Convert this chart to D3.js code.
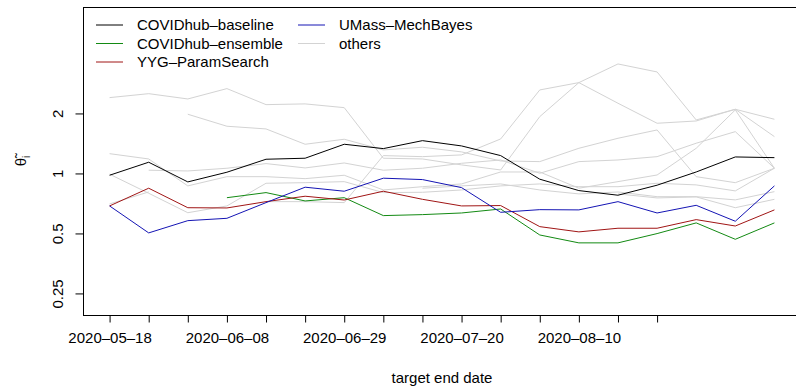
<!DOCTYPE html>
<html>
<head>
<meta charset="utf-8">
<script src="https://cdn.jsdelivr.net/npm/d3@7"></script>
<style>
  body { margin: 0; background: #fff; }
  svg text { font-family: "Liberation Sans", Arial, sans-serif; }
</style>
</head>
<body>
<div id="chart"></div>
<script>
// weekly target end dates
var dates = ["2020-05-18","2020-05-25","2020-06-01","2020-06-08","2020-06-15","2020-06-22",
             "2020-06-29","2020-07-06","2020-07-13","2020-07-20","2020-07-27","2020-08-03",
             "2020-08-10","2020-08-17","2020-08-24","2020-08-31","2020-09-07","2020-09-14"];
var tickDates = dates.slice(0, 15);
var labelDates = ["2020-05-18","2020-06-08","2020-06-29","2020-07-20","2020-08-10"];
var yTicks = [0.25, 0.5, 1, 2];

// highlighted models
var baseline = [0.985,1.145,0.912,1.02,1.185,1.199,1.409,1.34,1.469,1.382,1.236,0.941,0.825,0.782,0.878,1.023,1.217,1.207];
var ensemble = [null,null,null,0.760,0.806,0.732,0.760,0.618,0.625,0.637,0.667,0.494,0.451,0.451,0.502,0.568,0.470,0.568];
var yyg      = [0.691,0.848,0.677,0.675,0.726,0.773,0.740,0.819,0.746,0.691,0.694,0.544,0.512,0.534,0.534,0.590,0.548,0.660];
var umass    = [0.691,0.506,0.583,0.599,0.718,0.858,0.819,0.952,0.937,0.854,0.642,0.662,0.660,0.726,0.637,0.696,0.579,0.871];

// the other models (grey)
var others = [
  [2.415,2.528,2.378,2.680,2.227,2.246,2.151,1.199,1.189,1.110,1.047,1.939,2.872,2.263,1.796,1.844,2.111,1.539],
  [null,null,null,null,0.726,0.726,0.718,1.236,1.221,1.246,1.498,2.639,2.872,3.563,3.249,1.866,2.111,1.881],
  [null,null,1.993,1.735,1.682,1.409,1.493,1.320,1.361,1.290,1.162,1.153,1.345,1.510,1.662,0.969,0.904,1.068],
  [null,1.044,1.035,1.068,1.127,1.072,1.135,1.044,1.068,1.131,1.175,1.008,1.153,1.175,1.221,1.426,1.630,1.068],
  [1.264,1.189,0.871,0.969,0.969,0.947,0.985,0.831,0.863,0.891,1.023,1.023,0.848,0.915,0.988,1.345,2.095,1.068],
  [0.997,0.800,0.639,0.691,0.898,0.904,0.915,0.806,0.809,0.831,0.871,0.891,0.863,0.863,0.898,0.881,0.822,1.068],
  [0.707,0.812,null,null,null,null,null,null,null,null,null,null,null,null,null,null,null,null],
  [null,null,null,null,null,null,null,null,0.848,0.871,0.891,0.831,0.794,0.812,0.769,0.769,0.741,0.815],
  [null,null,null,null,null,null,null,null,null,null,null,null,null,0.794,0.758,0.767,0.677,0.746]
];

var legendNames  = ["COVIDhub-baseline","COVIDhub-ensemble","YYG-ParamSearch","UMass-MechBayes","others"];
var legendColors = ["#000000","#138a13","#a01515","#1414b4","#d3d3d3"];

var width = 796, height = 387;
var mLeft = 83, mTop = 7, mBottom = 315, mRight = 801;

var parse = d3.timeParse("%Y-%m-%d");
var weekMs = 7*24*3600*1000;
var first = parse(dates[0]), last = parse(dates[dates.length-1]);
var pad = 0.68*weekMs;

var x = d3.scaleTime()
  .domain([new Date(+first - pad), new Date(+last + pad)])
  .range([mLeft, mRight]);
var y = d3.scaleLog()
  .domain([0.196, 6.88])
  .range([mBottom, mTop]);

var svg = d3.select("#chart").append("svg")
  .attr("width", width)
  .attr("height", height);

var line = d3.line()
  .defined(function(d){ return d.v !== null; })
  .x(function(d){ return x(d.date); })
  .y(function(d){ return y(d.v); });

function toPts(arr) {
  return arr.map(function(v,i){ return {date: parse(dates[i]), v: v}; });
}

var plot = svg.append("g");
others.forEach(function(s){
  plot.append("path").datum(toPts(s))
    .attr("d", line).attr("fill","none")
    .attr("stroke", legendColors[4]).attr("stroke-width", 1);
});
[[baseline,0],[ensemble,1],[yyg,2],[umass,3]].forEach(function(p){
  plot.append("path").datum(toPts(p[0]))
    .attr("d", line).attr("fill","none")
    .attr("stroke", legendColors[p[1]]).attr("stroke-width", 1);
});

// box
svg.append("rect")
  .attr("x", mLeft+0.5).attr("y", mTop+0.5)
  .attr("width", mRight-mLeft).attr("height", mBottom-mTop)
  .attr("fill","none").attr("stroke","#000").attr("stroke-width",1);

// x axis
var xAxis = d3.axisBottom(x)
  .tickValues(tickDates.map(parse))
  .tickSize(7)
  .tickFormat(function(d){
    var s = d3.timeFormat("%Y-%m-%d")(d);
    return labelDates.indexOf(s) >= 0 ? s.replace(/-/g,"\u2013") : "";
  });
var gx = svg.append("g").attr("transform","translate(0,"+(mBottom+0.5)+")").call(xAxis);
gx.select(".domain").remove();
gx.selectAll("text").attr("font-size", 15).attr("fill","#000").attr("dy","1.15em");
gx.selectAll("line").attr("stroke","#000");

// y axis
var yAxis = d3.axisLeft(y)
  .tickValues(yTicks)
  .tickSize(8)
  .tickFormat(function(d){ return String(d); });
var gy = svg.append("g").attr("transform","translate("+(mLeft+0.5)+",0)").call(yAxis);
gy.select(".domain").remove();
gy.selectAll("line").attr("stroke","#000");
gy.selectAll(".tick").attr("transform", null);
gy.selectAll(".tick line").attr("y1", function(d){ return y(d); }).attr("y2", function(d){ return y(d); });
gy.selectAll("text")
  .attr("font-size", 15).attr("fill","#000")
  .attr("x", 0).attr("y", 0).attr("dy", 0)
  .attr("text-anchor","middle")
  .attr("transform", function(d){ return "translate(-21,"+y(d)+") rotate(-90)"; });

// axis titles
svg.append("text")
  .attr("x", (mLeft+mRight)/2).attr("y", 383)
  .attr("text-anchor","middle").attr("font-size",15)
  .text("target end date");

var yl = svg.append("text")
  .attr("transform","translate(26,"+((mTop+mBottom)/2)+") rotate(-90)")
  .attr("text-anchor","middle").attr("font-size",15);
yl.append("tspan").text("\u03B8\u0303");
yl.append("tspan").attr("font-size",10).attr("dy",4).text("i");

// legend
var cols = [[0,1,2],[3,4]];
var colX = [96, 298];
cols.forEach(function(idx, c){
  idx.forEach(function(k, r){
    var yy = 25 + r*18.5;
    svg.append("line")
      .attr("x1", colX[c]).attr("x2", colX[c]+27)
      .attr("y1", yy).attr("y2", yy)
      .attr("stroke", legendColors[k]).attr("stroke-width",1);
    svg.append("text")
      .attr("x", colX[c]+41).attr("y", yy+5)
      .attr("font-size",15)
      .text(legendNames[k].replace("-","\u2013"));
  });
});
</script>
</body>
</html>
